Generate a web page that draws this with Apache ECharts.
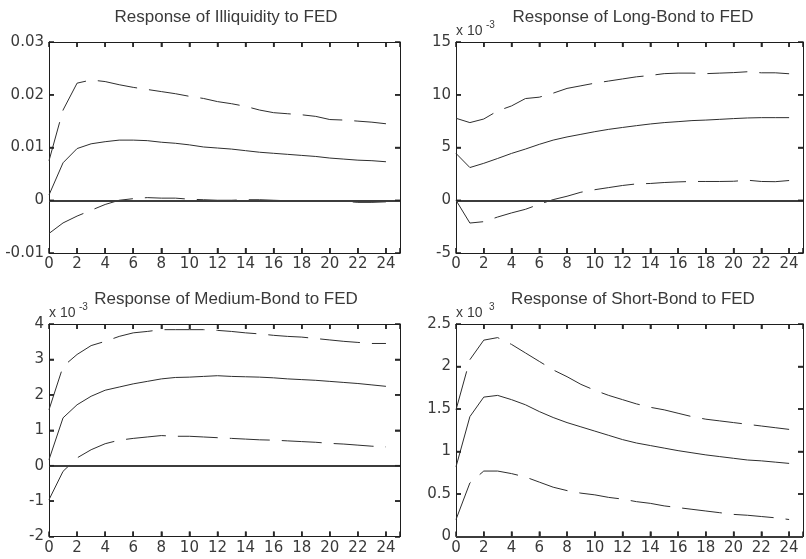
<!DOCTYPE html>
<html>
<head>
<meta charset="utf-8">
<script src="https://cdn.jsdelivr.net/npm/echarts@6/dist/echarts.min.js"></script>
<style>
	html, body { margin: 0; padding: 0; background: #fff; }
	#main { width: 806px; height: 559px; }
</style>
</head>
<body>
<div id="main"></div>
<script>
var periods = [0, 1, 2, 3, 4, 5, 6, 7, 8, 9, 10, 11, 12, 13, 14, 15, 16, 17, 18, 19, 20, 21, 22, 23, 24];
var xTicks = [0, 2, 4, 6, 8, 10, 12, 14, 16, 18, 20, 22, 24];

// Response of Illiquidity to FED
var illiqTicks = [-0.01, 0, 0.01, 0.02, 0.03];
var illiqMid = [0.001, 0.0071, 0.0098, 0.0107, 0.0111, 0.0114, 0.0114, 0.0113, 0.0110, 0.0108, 0.0105, 0.0101, 0.0099,
	0.0097, 0.0094, 0.0091, 0.0089, 0.0087, 0.0085, 0.0083, 0.0080, 0.0078, 0.0076, 0.0075, 0.0073];
var illiqUp = [0.0075, 0.0171, 0.0222, 0.0228, 0.0225, 0.0219, 0.0214, 0.0210, 0.0206, 0.0202, 0.0197, 0.0193, 0.0187,
	0.0183, 0.0178, 0.0171, 0.0166, 0.0164, 0.0162, 0.0159, 0.0153, 0.0152, 0.0150, 0.0148, 0.0145];
var illiqLow = [-0.0063, -0.0043, -0.0030, -0.0019, -0.0008, 0, 0.0003, 0.0005, 0.0004, 0.0004, 0.0002, 0.0001, 0,
	0, 0.0001, 0.0001, 0, -0.0001, -0.0001, -0.0002, -0.0002, -0.0002, -0.0004, -0.0004, -0.0003];

// Response of Long-Bond to FED (x 10^-3)
var longTicks = [-5, 0, 5, 10, 15];
var longMid = [4.44, 3.1, 3.5, 3.96, 4.44, 4.85, 5.3, 5.7, 6.0, 6.25, 6.5, 6.72, 6.9,
	7.07, 7.23, 7.36, 7.45, 7.55, 7.6, 7.67, 7.74, 7.8, 7.83, 7.83, 7.83];
var longUp = [7.77, 7.36, 7.7, 8.47, 8.94, 9.64, 9.77, 10.15, 10.6, 10.85, 11.1, 11.3, 11.5,
	11.7, 11.83, 12.0, 12.05, 12.05, 12.0, 12.05, 12.1, 12.18, 12.08, 12.08, 11.99];
var longLow = [0, -2.16, -2.03, -1.59, -1.2, -0.86, -0.38, 0.06, 0.38, 0.76, 1.0, 1.2, 1.4,
	1.55, 1.59, 1.68, 1.74, 1.78, 1.78, 1.78, 1.8, 1.9, 1.78, 1.76, 1.87];

// Response of Medium-Bond to FED (x 10^-3)
var medTicks = [-2, -1, 0, 1, 2, 3, 4];
var medMid = [0.17, 1.35, 1.72, 1.96, 2.13, 2.22, 2.31, 2.38, 2.45, 2.49, 2.5, 2.52, 2.54,
	2.52, 2.51, 2.5, 2.48, 2.45, 2.43, 2.41, 2.38, 2.35, 2.32, 2.28, 2.24];
var medUp = [1.58, 2.8, 3.14, 3.39, 3.51, 3.65, 3.75, 3.79, 3.84, 3.84, 3.84, 3.84, 3.82,
	3.79, 3.75, 3.72, 3.68, 3.65, 3.63, 3.59, 3.55, 3.51, 3.48, 3.45, 3.45];
var medLow = [-0.96, -0.16, 0.22, 0.45, 0.62, 0.72, 0.77, 0.81, 0.85, 0.83, 0.83, 0.81, 0.79,
	0.77, 0.75, 0.73, 0.72, 0.7, 0.68, 0.66, 0.63, 0.61, 0.58, 0.55, 0.53];

// Response of Short-Bond to FED (x 10^-3)
var shortTicks = [0, 0.5, 1, 1.5, 2, 2.5];
var shortMid = [0.82, 1.41, 1.64, 1.66, 1.61, 1.55, 1.47, 1.40, 1.34, 1.29, 1.24, 1.19, 1.14,
	1.10, 1.07, 1.04, 1.01, 0.985, 0.96, 0.94, 0.92, 0.90, 0.89, 0.875, 0.86];
var shortUp = [1.49, 2.08, 2.31, 2.34, 2.26, 2.16, 2.06, 1.96, 1.88, 1.79, 1.72, 1.66, 1.61,
	1.56, 1.52, 1.49, 1.45, 1.41, 1.38, 1.36, 1.34, 1.32, 1.30, 1.28, 1.26];
var shortLow = [0.2, 0.63, 0.77, 0.77, 0.74, 0.70, 0.64, 0.58, 0.54, 0.51, 0.49, 0.46, 0.44,
	0.41, 0.39, 0.36, 0.34, 0.32, 0.30, 0.28, 0.26, 0.25, 0.235, 0.22, 0.2];

var panels = [
	{ title: 'Response of Illiquidity to FED', scale: '', mid: illiqMid, up: illiqUp, low: illiqLow,
		yTicks: illiqTicks, yStep: 0.01, left: 49, top: 42, width: 351, height: 211 },
	{ title: 'Response of Long-Bond to FED', scale: '-3', mid: longMid, up: longUp, low: longLow,
		yTicks: longTicks, yStep: 5, left: 456, top: 42, width: 352.5, height: 211 },
	{ title: 'Response of Medium-Bond to FED', scale: '-3', mid: medMid, up: medUp, low: medLow,
		yTicks: medTicks, yStep: 1, left: 49, top: 324, width: 351, height: 212.5 },
	{ title: 'Response of Short-Bond to FED', scale: '3', mid: shortMid, up: shortUp, low: shortLow,
		yTicks: shortTicks, yStep: 0.5, left: 456, top: 324, width: 352.5, height: 212.5 }
];

var xMax = 25;
var ink = '#1e1e1e';
var curveInk = '#2e2e2e';
var textInk = '#3a3a3a';
var titleFont = 'Liberation Sans';
var tickFont = 'DejaVu Sans';

function pairs(arr) {
	var out = [];
	for (var i = 0; i < periods.length; i++) {
		out.push([periods[i], arr[i]]);
	}
	return out;
}

// small inward tick marks along one side of the box, placed through the axes
function tickSeries(xi, yi, pts, size, offset) {
	return {
		type: 'scatter', xAxisIndex: xi, yAxisIndex: yi, data: pts, silent: true, clip: false,
		symbol: 'rect', symbolSize: size, symbolOffset: offset,
		itemStyle: { color: ink }, z: 5
	};
}

function boxLine() {
	return { show: true, onZero: false, lineStyle: { color: ink, width: 1 } };
}
function inTick() {
	return { show: true, inside: true, length: 5, lineStyle: { color: ink, width: 1.5 } };
}

var grid = [], xAxis = [], yAxis = [], series = [], graphic = [];

for (var p = 0; p < panels.length; p++) {
	var c = panels[p];
	var yMin = c.yTicks[0], yMax = c.yTicks[c.yTicks.length - 1];
	grid.push({ left: c.left, top: c.top, width: c.width, height: c.height });

	xAxis.push({
		type: 'value', gridIndex: p, position: 'bottom', min: 0, max: xMax, interval: 2,
		axisLine: boxLine(), axisTick: inTick(), splitLine: { show: false },
		axisLabel: {
			color: textInk, fontFamily: tickFont, fontSize: 15, margin: 4,
			formatter: function(v) { return xTicks.indexOf(v) >= 0 ? String(v) : ''; }
		}
	});
	xAxis.push({
		type: 'value', gridIndex: p, position: 'top', min: 0, max: xMax, interval: 2,
		axisLine: boxLine(), axisTick: inTick(), splitLine: { show: false }, axisLabel: { show: false }
	});
	yAxis.push({
		type: 'value', gridIndex: p, position: 'left', min: yMin, max: yMax, interval: c.yStep,
		axisLine: boxLine(), axisTick: inTick(), splitLine: { show: false },
		axisLabel: { color: textInk, fontFamily: tickFont, fontSize: 15, margin: 5 }
	});
	yAxis.push({
		type: 'value', gridIndex: p, position: 'right', min: yMin, max: yMax, interval: c.yStep,
		axisLine: boxLine(), axisTick: inTick(), splitLine: { show: false }, axisLabel: { show: false }
	});

	var xi = p * 2, yi = p * 2;
	series.push({
		type: 'line', xAxisIndex: xi, yAxisIndex: yi, data: pairs(c.mid), symbol: 'none',
		lineStyle: { color: curveInk, width: 1 },
		markLine: {
			silent: true, symbol: 'none', label: { show: false },
			lineStyle: { color: '#3c3c3c', width: 1.8, type: 'solid' },
			data: [{ yAxis: 0 }]
		}
	});
	series.push({
		type: 'line', xAxisIndex: xi, yAxisIndex: yi, data: pairs(c.up), symbol: 'none',
		lineStyle: { color: curveInk, width: 1, type: [40, 12] }
	});
	series.push({
		type: 'line', xAxisIndex: xi, yAxisIndex: yi, data: pairs(c.low), symbol: 'none',
		lineStyle: { color: curveInk, width: 1, type: [40, 12] }
	});

	var bottomPts = [], topPts = [], leftPts = [], rightPts = [];
	for (var k = 1; k < xTicks.length; k++) {
		bottomPts.push([xTicks[k], yMin]);
		topPts.push([xTicks[k], yMax]);
	}
	for (var m = 1; m < c.yTicks.length - 1; m++) {
		leftPts.push([0, c.yTicks[m]]);
		rightPts.push([xMax, c.yTicks[m]]);
	}
	series.push(tickSeries(xi, yi, bottomPts, [1.5, 5], [0, -2.5]));
	series.push(tickSeries(xi, yi, topPts, [1.5, 5], [0, 2.5]));
	series.push(tickSeries(xi, yi, leftPts, [5, 1.5], [2.5, 0]));
	series.push(tickSeries(xi, yi, rightPts, [5, 1.5], [-2.5, 0]));

	graphic.push({
		type: 'text', x: c.left + 177, y: c.top - 25,
		style: { text: c.title, fill: textInk, font: '17px "' + titleFont + '"', textAlign: 'center', textVerticalAlign: 'middle' }
	});
	if (c.scale) {
		graphic.push({
			type: 'text', x: c.left, y: c.top - 11,
			style: { text: 'x 10', fill: textInk, font: '14px "' + titleFont + '"', textAlign: 'left', textVerticalAlign: 'middle' }
		});
		graphic.push({
			type: 'text', x: c.left + (c.scale === '3' ? 33 : 30), y: c.top - 17,
			style: { text: c.scale, fill: textInk, font: '10px "' + titleFont + '"', textAlign: 'left', textVerticalAlign: 'middle' }
		});
	}
}

var myChart = echarts.init(document.getElementById('main'), null, { renderer: 'canvas' });
var option = {
	backgroundColor: '#fff',
	animation: false,
	grid: grid,
	xAxis: xAxis,
	yAxis: yAxis,
	series: series,
	graphic: graphic
};
myChart.setOption(option);
</script>
</body>
</html>
